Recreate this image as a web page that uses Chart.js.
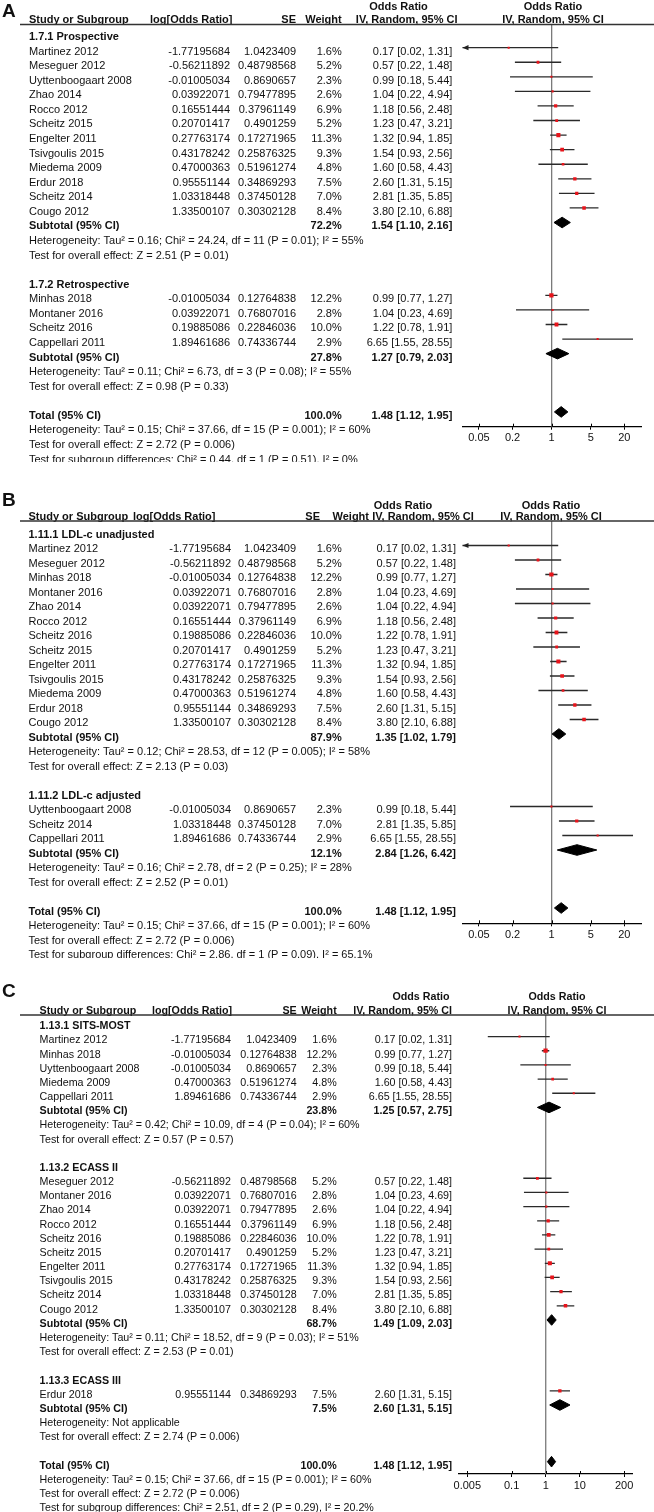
<!DOCTYPE html>
<html>
<head>
<meta charset="utf-8">
<script src="https://cdn.jsdelivr.net/npm/chart.js@4.4.0/dist/chart.umd.min.js"></script>
<style>
    body { margin: 0; background: #fff; width: 654px; height: 1512px; position: relative; overflow: hidden; }
    canvas { position: absolute; left: 0; }
</style>
</head>
<body>
<canvas id="graficoA" width="654" height="462" style="top:0px"></canvas>
<canvas id="graficoB" width="654" height="478" style="top:480px"></canvas>
<canvas id="graficoC" width="654" height="537" style="top:975px"></canvas>
<script>
// Dados dos estudos
const estudos = ['Martinez 2012', 'Meseguer 2012', 'Uyttenboogaart 2008', 'Zhao 2014', 'Rocco 2012', 'Scheitz 2015',
    'Engelter 2011', 'Tsivgoulis 2015', 'Miedema 2009', 'Erdur 2018', 'Scheitz 2014', 'Cougo 2012',
    'Minhas 2018', 'Montaner 2016', 'Scheitz 2016', 'Cappellari 2011'];
const logOR = [-1.77195684, -0.56211892, -0.01005034, 0.03922071, 0.16551444, 0.20701417,
    0.27763174, 0.43178242, 0.47000363, 0.95551144, 1.03318448, 1.33500107,
    -0.01005034, 0.03922071, 0.19885086, 1.89461686];
const erroPadrao = [1.0423409, 0.48798568, 0.8690657, 0.79477895, 0.37961149, 0.4901259,
    0.17271965, 0.25876325, 0.51961274, 0.34869293, 0.37450128, 0.30302128,
    0.12764838, 0.76807016, 0.22846036, 0.74336744];
const pesos = [1.6, 5.2, 2.3, 2.6, 6.9, 5.2, 11.3, 9.3, 4.8, 7.5, 7.0, 8.4, 12.2, 2.8, 10.0, 2.9];
const oddsRatio = [0.17, 0.57, 0.99, 1.04, 1.18, 1.23, 1.32, 1.54, 1.60, 2.60, 2.81, 3.80, 0.99, 1.04, 1.22, 6.65];
const icInferior = [0.02, 0.22, 0.18, 0.22, 0.56, 0.47, 0.94, 0.93, 0.58, 1.31, 1.35, 2.10, 0.77, 0.23, 0.78, 1.55];
const icSuperior = [1.31, 1.48, 5.44, 4.94, 2.48, 3.21, 1.85, 2.56, 4.43, 5.15, 5.85, 6.88, 1.27, 4.69, 1.91, 28.55];

// Total (igual nos tres paineis)
const totalOR = [1.48, 1.12, 1.95];
const hetTotal = 'Tau\u00b2 = 0.15; Chi\u00b2 = 37.66, df = 15 (P = 0.001); I\u00b2 = 60%';
const testeTotal = 'Z = 2.72 (P = 0.006)';

// Painel A
const gruposA = ['1.7.1 Prospective', '1.7.2 Retrospective'];
const membrosA = [
    ['Martinez 2012', 'Meseguer 2012', 'Uyttenboogaart 2008', 'Zhao 2014', 'Rocco 2012', 'Scheitz 2015', 'Engelter 2011',
        'Tsivgoulis 2015', 'Miedema 2009', 'Erdur 2018', 'Scheitz 2014', 'Cougo 2012'],
    ['Minhas 2018', 'Montaner 2016', 'Scheitz 2016', 'Cappellari 2011']
];
const subPesoA = [72.2, 27.8];
const subOrA = [[1.54, 1.10, 2.16], [1.27, 0.79, 2.03]];
const hetA = ['Tau\u00b2 = 0.16; Chi\u00b2 = 24.24, df = 11 (P = 0.01); I\u00b2 = 55%', 'Tau\u00b2 = 0.11; Chi\u00b2 = 6.73, df = 3 (P = 0.08); I\u00b2 = 55%'];
const testeA = ['Z = 2.51 (P = 0.01)', 'Z = 0.98 (P = 0.33)'];
const difSubA = 'Chi\u00b2 = 0.44, df = 1 (P = 0.51), I\u00b2 = 0%';

// Painel B
const gruposB = ['1.11.1 LDL-c unadjusted', '1.11.2 LDL-c adjusted'];
const membrosB = [
    ['Martinez 2012', 'Meseguer 2012', 'Minhas 2018', 'Montaner 2016', 'Zhao 2014', 'Rocco 2012', 'Scheitz 2016',
        'Scheitz 2015', 'Engelter 2011', 'Tsivgoulis 2015', 'Miedema 2009', 'Erdur 2018', 'Cougo 2012'],
    ['Uyttenboogaart 2008', 'Scheitz 2014', 'Cappellari 2011']
];
const subPesoB = [87.9, 12.1];
const subOrB = [[1.35, 1.02, 1.79], [2.84, 1.26, 6.42]];
const hetB = ['Tau\u00b2 = 0.12; Chi\u00b2 = 28.53, df = 12 (P = 0.005); I\u00b2 = 58%', 'Tau\u00b2 = 0.16; Chi\u00b2 = 2.78, df = 2 (P = 0.25); I\u00b2 = 28%'];
const testeB = ['Z = 2.13 (P = 0.03)', 'Z = 2.52 (P = 0.01)'];
const difSubB = 'Chi\u00b2 = 2.86, df = 1 (P = 0.09), I\u00b2 = 65.1%';

// Painel C
const gruposC = ['1.13.1 SITS-MOST', '1.13.2 ECASS II', '1.13.3 ECASS III'];
const membrosC = [
    ['Martinez 2012', 'Minhas 2018', 'Uyttenboogaart 2008', 'Miedema 2009', 'Cappellari 2011'],
    ['Meseguer 2012', 'Montaner 2016', 'Zhao 2014', 'Rocco 2012', 'Scheitz 2016', 'Scheitz 2015', 'Engelter 2011',
        'Tsivgoulis 2015', 'Scheitz 2014', 'Cougo 2012'],
    ['Erdur 2018']
];
const subPesoC = [23.8, 68.7, 7.5];
const subOrC = [[1.25, 0.57, 2.75], [1.49, 1.09, 2.03], [2.60, 1.31, 5.15]];
const hetC = ['Tau\u00b2 = 0.42; Chi\u00b2 = 10.09, df = 4 (P = 0.04); I\u00b2 = 60%', 'Tau\u00b2 = 0.11; Chi\u00b2 = 18.52, df = 9 (P = 0.03); I\u00b2 = 51%', 'Not applicable'];
const testeC = ['Z = 0.57 (P = 0.57)', 'Z = 2.53 (P = 0.01)', 'Z = 2.74 (P = 0.006)'];
const difSubC = 'Chi\u00b2 = 2.51, df = 2 (P = 0.29), I\u00b2 = 20.2%';

const ticksAB = [0.05, 0.2, 1, 5, 20];
const ticksC = [0.005, 0.1, 1, 10, 200];

const FONTE = '"Liberation Sans", Arial, Helvetica, sans-serif';

const paineis = [
    {
        id: 'graficoA', letra: 'A', letraY: 17, grupos: gruposA, membros: membrosA, subPeso: subPesoA, subOr: subOrA,
        het: hetA, teste: testeA, difSub: difSubA, ticks: ticksAB, xMin: 0.0254, xMax: 40.5,
        esq: 462.5, dir: 641.5, topo: 24.5, eixo: 426.7, linha0: 33.1, dy: 14.57, fonte: 11,
        cabOr: 10, cabHdr: 23,
        col: { nome: 29, logHdr: 150, logVal: 230, se: 296, seHdr: 296, peso: 341.7, pesoHdr: 341.7, ci: 452.3, orHdr: 398.5, ivHdr: 406.7, dirHdr: 553 }
    },
    {
        id: 'graficoB', letra: 'B', letraY: 26, grupos: gruposB, membros: membrosB, subPeso: subPesoB, subOr: subOrB,
        het: hetB, teste: testeB, difSub: difSubB, ticks: ticksAB, xMin: 0.0254, xMax: 40.5,
        esq: 462.5, dir: 641.5, topo: 41, eixo: 443.3, linha0: 51, dy: 14.5, fonte: 11,
        cabOr: 29, cabHdr: 40,
        col: { nome: 28.5, logHdr: 133, logVal: 231, se: 296, seHdr: 320, peso: 341.7, pesoHdr: 369, ci: 456, orHdr: 403, ivHdr: 423, dirHdr: 551 }
    },
    {
        id: 'graficoC', letra: 'C', letraY: 22, grupos: gruposC, membros: membrosC, subPeso: subPesoC, subOr: subOrC,
        het: hetC, teste: testeC, difSub: difSubC, ticks: ticksC, xMin: 0.00286, xMax: 355.6,
        esq: 459, dir: 632.7, topo: 40, eixo: 499, linha0: 47.4, dy: 14.17, fonte: 10.7,
        cabOr: 25, cabHdr: 39,
        col: { nome: 39.6, logHdr: 152, logVal: 231, se: 296.7, seHdr: 296.7, peso: 336.7, pesoHdr: 336.7, ci: 452, orHdr: 421, ivHdr: 402.6, dirHdr: 557 }
    }
];

function f2(v) {
    return v.toFixed(2);
}

function textoIC(or, lo, hi) {
    return `${f2(or)} [${f2(lo)}, ${f2(hi)}]`;
}

// Monta as linhas da tabela (indice de linha = posicao no eixo y)
function montarLinhas(p) {
    let linhas = [];
    let r = 0;
    p.grupos.forEach((g, gi) => {
        linhas.push({ tipo: 'grupo', r: r++, texto: g });
        p.membros[gi].forEach(nome => {
            linhas.push({ tipo: 'estudo', r: r++, i: estudos.indexOf(nome) });
        });
        linhas.push({ tipo: 'sub', r: r++, rotulo: 'Subtotal (95% CI)', peso: p.subPeso[gi], or: p.subOr[gi] });
        linhas.push({ tipo: 'texto', r: r++, texto: 'Heterogeneity: ' + p.het[gi] });
        linhas.push({ tipo: 'texto', r: r++, texto: 'Test for overall effect: ' + p.teste[gi] });
        r++;
    });
    linhas.push({ tipo: 'sub', r: r++, rotulo: 'Total (95% CI)', peso: 100, or: totalOR });
    linhas.push({ tipo: 'texto', r: r++, texto: 'Heterogeneity: ' + hetTotal });
    linhas.push({ tipo: 'texto', r: r++, texto: 'Test for overall effect: ' + testeTotal });
    linhas.push({ tipo: 'texto', r: r++, texto: 'Test for subgroup differences: ' + p.difSub });
    return linhas;
}

function criarPluginTabela(p, linhas) {
    return {
        id: 'tabela',
        afterDraw(chart) {
            const ctx = chart.ctx;
            const ys = chart.scales.y;
            const xs = chart.scales.x;
            const area = chart.chartArea;
            const c = p.col;
            const normal = `${p.fonte}px ${FONTE}`;
            const negrito = `bold ${p.fonte}px ${FONTE}`;
            const base = r => ys.getPixelForValue(r) + 3 + p.fonte * 0.36;

            function escrever(txt, x, y, alinhar, fonte) {
                ctx.font = fonte;
                ctx.textAlign = alinhar;
                ctx.fillText(txt, x, y);
            }

            ctx.save();
            ctx.fillStyle = '#111';
            ctx.textBaseline = 'alphabetic';

            // letra do painel
            escrever(p.letra, 2, p.letraY, 'left', `bold 19px ${FONTE}`);

            // cabecalhos
            escrever('Odds Ratio', c.orHdr, p.cabOr, 'center', negrito);
            escrever('Odds Ratio', c.dirHdr, p.cabOr, 'center', negrito);
            escrever('Study or Subgroup', c.nome, p.cabHdr, 'left', negrito);
            escrever('log[Odds Ratio]', c.logHdr, p.cabHdr, 'left', negrito);
            escrever('SE', c.seHdr, p.cabHdr, 'right', negrito);
            escrever('Weight', c.pesoHdr, p.cabHdr, 'right', negrito);
            escrever('IV, Random, 95% CI', c.ivHdr, p.cabHdr, 'center', negrito);
            escrever('IV, Random, 95% CI', c.dirHdr, p.cabHdr, 'center', negrito);

            // linha do cabecalho
            ctx.strokeStyle = '#333';
            ctx.lineWidth = 1.3;
            ctx.beginPath();
            ctx.moveTo(20, area.top);
            ctx.lineTo(654, area.top);
            ctx.stroke();

            // linhas da tabela
            linhas.forEach(l => {
                const y = base(l.r);
                if (l.tipo == 'grupo') {
                    escrever(l.texto, c.nome, y, 'left', negrito);
                } else if (l.tipo == 'estudo') {
                    const i = l.i;
                    escrever(estudos[i], c.nome, y, 'left', normal);
                    escrever(String(logOR[i]), c.logVal, y, 'right', normal);
                    escrever(String(erroPadrao[i]), c.se, y, 'right', normal);
                    escrever(pesos[i].toFixed(1) + '%', c.peso, y, 'right', normal);
                    escrever(textoIC(oddsRatio[i], icInferior[i], icSuperior[i]), c.ci, y, 'right', normal);
                } else if (l.tipo == 'sub') {
                    escrever(l.rotulo, c.nome, y, 'left', negrito);
                    escrever(l.peso.toFixed(1) + '%', c.peso, y, 'right', negrito);
                    escrever(textoIC(l.or[0], l.or[1], l.or[2]), c.ci, y, 'right', negrito);
                } else {
                    escrever(l.texto, c.nome, y, 'left', normal);
                }
            });

            // setas para IC fora da escala
            ctx.fillStyle = '#222';
            linhas.forEach(l => {
                if (l.tipo != 'estudo') return;
                const y = ys.getPixelForValue(l.r);
                if (icInferior[l.i] < xs.min) {
                    const x = xs.getPixelForValue(xs.min);
                    ctx.beginPath();
                    ctx.moveTo(x, y);
                    ctx.lineTo(x + 6, y - 2.6);
                    ctx.lineTo(x + 6, y + 2.6);
                    ctx.closePath();
                    ctx.fill();
                }
                if (icSuperior[l.i] > xs.max) {
                    const x = xs.getPixelForValue(xs.max);
                    ctx.beginPath();
                    ctx.moveTo(x, y);
                    ctx.lineTo(x - 6, y - 2.6);
                    ctx.lineTo(x - 6, y + 2.6);
                    ctx.closePath();
                    ctx.fill();
                }
            });

            // meia-marca acima do eixo
            ctx.strokeStyle = '#000';
            ctx.lineWidth = 1;
            p.ticks.forEach(t => {
                const x = Math.round(xs.getPixelForValue(t)) + 0.5;
                ctx.beginPath();
                ctx.moveTo(x, area.bottom - 3);
                ctx.lineTo(x, area.bottom);
                ctx.stroke();
            });
            ctx.restore();
        }
    };
}

function plotarPainel(p) {
    const canvas = document.getElementById(p.id);
    const altura = canvas.height;
    const linhas = montarLinhas(p);
    const yMin = (p.topo - p.linha0) / p.dy;
    const yMax = (p.eixo - p.linha0) / p.dy;
    const meiaAltura = 5.3 / p.dy;

    let datasets = [];

    // linha vertical em OR = 1
    datasets.push({
        type: 'line',
        data: [{ x: 1, y: yMin }, { x: 1, y: yMax }],
        borderColor: '#7a7a7a',
        borderWidth: 1.3,
        pointRadius: 0,
        order: 5
    });

    let pontos = [];
    let raios = [];
    linhas.forEach(l => {
        if (l.tipo == 'estudo') {
            const i = l.i;
            datasets.push({
                type: 'line',
                data: [{ x: icInferior[i], y: l.r }, { x: icSuperior[i], y: l.r }],
                borderColor: '#2a2a2a',
                borderWidth: 1.3,
                pointRadius: 0,
                order: 4
            });
            pontos.push({ x: oddsRatio[i], y: l.r });
            raios.push(Math.max(1.45, 0.86 * Math.sqrt(pesos[i])));
        } else if (l.tipo == 'sub') {
            const [or, lo, hi] = l.or;
            datasets.push({
                type: 'line',
                data: [
                    { x: lo, y: l.r },
                    { x: or, y: l.r - meiaAltura },
                    { x: hi, y: l.r },
                    { x: or, y: l.r + meiaAltura },
                    { x: lo, y: l.r }
                ],
                borderColor: '#000',
                backgroundColor: '#000',
                borderWidth: 1,
                pointRadius: 0,
                tension: 0,
                fill: 'shape',
                order: 3
            });
        }
    });

    // quadrados vermelhos (estimativa pontual)
    datasets.push({
        type: 'scatter',
        data: pontos,
        pointStyle: 'rect',
        pointRadius: raios,
        backgroundColor: '#e8141b',
        borderWidth: 0,
        order: 1
    });

    new Chart(canvas, {
        type: 'scatter',
        data: { datasets: datasets },
        options: {
            responsive: false,
            animation: false,
            events: [],
            layout: {
                padding: { left: p.esq, right: 654 - p.dir, top: p.topo, bottom: altura - p.eixo - 28 }
            },
            plugins: {
                legend: { display: false },
                tooltip: { enabled: false }
            },
            scales: {
                x: {
                    type: 'logarithmic',
                    min: p.xMin,
                    max: p.xMax,
                    afterBuildTicks: s => { s.ticks = p.ticks.map(v => ({ value: v })); },
                    afterFit: s => { s.height = 28; },
                    grid: { drawOnChartArea: false, drawTicks: true, tickLength: 3, color: '#000', lineWidth: 1 },
                    border: { display: true, color: '#000', width: 1.2 },
                    ticks: {
                        color: '#111',
                        font: { family: FONTE, size: 11 },
                        padding: 2,
                        autoSkip: false,
                        maxRotation: 0,
                        callback: v => String(v)
                    }
                },
                y: {
                    type: 'linear',
                    display: false,
                    reverse: true,
                    min: yMin,
                    max: yMax
                }
            }
        },
        plugins: [criarPluginTabela(p, linhas)]
    });
}

paineis.forEach(p => plotarPainel(p));
</script>
</body>
</html>
